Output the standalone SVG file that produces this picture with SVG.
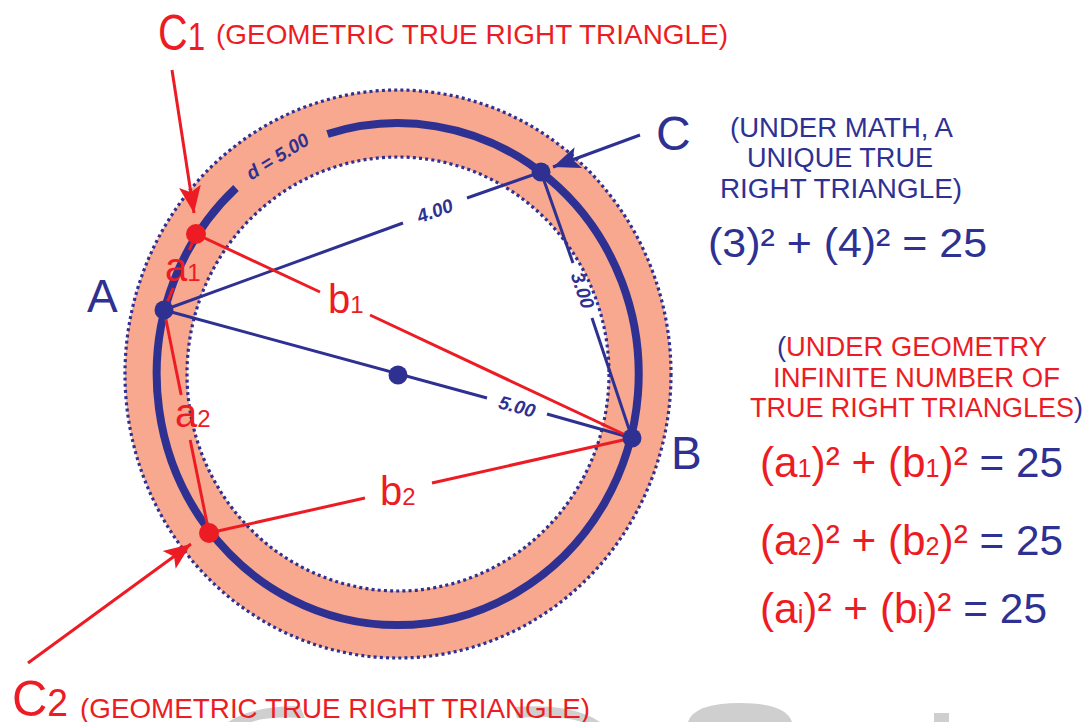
<svg xmlns="http://www.w3.org/2000/svg" width="1086" height="722" viewBox="0 0 1086 722">
<style>
text{font-family:"Liberation Sans",Arial,sans-serif}
.nv{fill:#2E3192}
.rd{fill:#ED1C24}
.dim{font-weight:bold;font-style:italic;font-size:19px;fill:#2E3192}
.nl{stroke:#2E3192;stroke-width:3;fill:none}
.rl{stroke:#ED1C24;stroke-width:3;fill:none}
.dot{fill:none;stroke:#2E3192;stroke-width:3.2;stroke-dasharray:3 3.2}
.wm{fill:#cfcfcf}
</style>
<defs>
<marker id="arR" markerUnits="userSpaceOnUse" markerWidth="32" markerHeight="26" viewBox="-29 -13 32 26" refX="0" refY="0" orient="auto"><path d="M0,0 L-27,-11 L-21,0 L-27,11 Z" fill="#ED1C24"/></marker>
<marker id="arN" markerUnits="userSpaceOnUse" markerWidth="32" markerHeight="26" viewBox="-29 -13 32 26" refX="0" refY="0" orient="auto"><path d="M0,0 L-27,-11 L-21,0 L-27,11 Z" fill="#2E3192"/></marker>
</defs>
<g id="watermark">
<path class="wm" d="M228,722 Q252,706 300,706 L305,718 Q266,716 252,722 Z"/>
<path class="wm" d="M514,707 Q572,703 600,722 L582,722 Q560,715 517,718 Z"/>
<path class="wm" d="M688,722 Q694,703 740,703 Q786,703 792,722 Z"/>
<rect class="wm" x="934" y="713" width="15" height="9"/>
</g>
<g id="band">
<path d="M125,374 A273,284 0 1 0 671,374 A273,284 0 1 0 125,374 Z M187,374 A211,217 0 1 1 609,374 A211,217 0 1 1 187,374 Z" fill="#F7A88E" fill-rule="evenodd"/>
<ellipse class="dot" cx="398" cy="374" rx="273" ry="284"/>
<ellipse class="dot" cx="398" cy="374" rx="211" ry="217"/>
</g>
<g id="circle">
<path d="M327.5,134 A241,251 0 1 1 236,188" fill="none" stroke="#2E3192" stroke-width="8"/>
<text class="dim" x="281" y="162" text-anchor="middle" transform="rotate(-32 281 162)">d = 5.00</text>
</g>
<g id="connectors">
<line class="nl" x1="164" y1="310" x2="403" y2="223"/>
<line class="nl" x1="467" y1="198" x2="541" y2="172"/>
<line class="nl" x1="541" y1="172" x2="573" y2="263"/>
<line class="nl" x1="592" y1="318" x2="632" y2="438"/>
<line class="nl" x1="164" y1="310" x2="487" y2="398"/>
<line class="nl" x1="547" y1="414" x2="632" y2="438"/>
<line class="rl" x1="196" y1="234" x2="320" y2="292"/>
<line class="rl" x1="370" y1="315" x2="632" y2="438"/>
<line class="rl" x1="196" y1="234" x2="189.3" y2="250"/>
<line class="rl" x1="173.3" y1="288" x2="164" y2="310"/>
<line class="rl" x1="164" y1="310" x2="181.2" y2="395"/>
<line class="rl" x1="190.2" y1="440" x2="209" y2="533"/>
<line class="rl" x1="209" y1="533" x2="365" y2="498"/>
<line class="rl" x1="432" y1="483" x2="632" y2="438"/>
<line class="rl" x1="172" y1="70" x2="194" y2="213" marker-end="url(#arR)"/>
<line class="rl" x1="28" y1="663" x2="191" y2="544" marker-end="url(#arR)"/>
<line class="nl" x1="640" y1="135" x2="553" y2="167" marker-end="url(#arN)"/>
<text class="dim" x="437" y="217" text-anchor="middle" transform="rotate(-20.1 437 217)">4.00</text>
<text class="dim" x="576.4" y="292.6" text-anchor="middle" transform="rotate(71.1 576.4 292.6)">3.00</text>
<text class="dim" x="515.3" y="412.8" text-anchor="middle" transform="rotate(15.3 515.3 412.8)">5.00</text>
</g>
<g id="node-A"><circle cx="164" cy="310" r="9.5" fill="#2E3192"/><text class="nv" x="87" y="312" font-size="46">A</text></g>
<g id="node-B"><circle cx="632" cy="438" r="9.5" fill="#2E3192"/><text class="nv" x="671" y="469" font-size="46">B</text></g>
<g id="node-C"><circle cx="541" cy="172" r="9.5" fill="#2E3192"/><text class="nv" x="656" y="150" font-size="48">C</text></g>
<g id="node-O"><circle cx="398" cy="375" r="9.5" fill="#2E3192"/></g>
<g id="node-C1"><circle cx="196" cy="234" r="10" fill="#ED1C24"/>
<text class="rd" x="158" y="50" font-size="50" textLength="47" lengthAdjust="spacingAndGlyphs">C<tspan font-size="38">1</tspan></text>
<text class="rd" x="216" y="44" font-size="28" textLength="512" lengthAdjust="spacingAndGlyphs">(GEOMETRIC TRUE RIGHT TRIANGLE)</text></g>
<g id="node-C2"><circle cx="209" cy="533" r="10" fill="#ED1C24"/>
<text class="rd" x="12" y="716" font-size="50" textLength="56" lengthAdjust="spacingAndGlyphs">C<tspan font-size="38">2</tspan></text>
<text class="rd" x="80" y="718" font-size="28" textLength="510" lengthAdjust="spacingAndGlyphs">(GEOMETRIC TRUE RIGHT TRIANGLE)</text></g>
<g id="labels">
<text class="rd" x="165" y="281" font-size="40">a<tspan font-size="24">1</tspan></text>
<text class="rd" x="328" y="313" font-size="40">b<tspan font-size="24">1</tspan></text>
<text class="rd" x="175" y="427" font-size="40">a<tspan font-size="24">2</tspan></text>
<text class="rd" x="380" y="505" font-size="40">b<tspan font-size="24">2</tspan></text>
</g>
<g id="math-note">
<text class="nv" x="730" y="137" font-size="27" textLength="223" lengthAdjust="spacingAndGlyphs">(UNDER MATH, A</text>
<text class="nv" x="747" y="167" font-size="27" textLength="186" lengthAdjust="spacingAndGlyphs">UNIQUE TRUE</text>
<text class="nv" x="720" y="198" font-size="27" textLength="242" lengthAdjust="spacingAndGlyphs">RIGHT TRIANGLE)</text>
<text class="nv" x="708" y="257" font-size="40" textLength="279" lengthAdjust="spacingAndGlyphs">(3)² + (4)² = 25</text>
</g>
<g id="geometry-note">
<text x="777" y="356" font-size="27" textLength="270" lengthAdjust="spacingAndGlyphs"><tspan class="nv">(</tspan><tspan class="rd">UNDER GEOMETRY</tspan></text>
<text class="rd" x="773" y="387" font-size="27" textLength="287" lengthAdjust="spacingAndGlyphs">INFINITE NUMBER OF</text>
<text x="750" y="417" font-size="27" textLength="333" lengthAdjust="spacingAndGlyphs"><tspan class="rd">TRUE RIGHT TRIANGLES</tspan><tspan class="nv">)</tspan></text>
<text x="760" y="477" font-size="42" textLength="303" lengthAdjust="spacingAndGlyphs"><tspan class="rd">(a</tspan><tspan class="rd" font-size="25">1</tspan><tspan class="rd">)² + (b</tspan><tspan class="rd" font-size="25">1</tspan><tspan class="rd">)²</tspan><tspan class="nv"> = 25</tspan></text>
<text x="760" y="555" font-size="42" textLength="303" lengthAdjust="spacingAndGlyphs"><tspan class="rd">(a</tspan><tspan class="rd" font-size="25">2</tspan><tspan class="rd">)² + (b</tspan><tspan class="rd" font-size="25">2</tspan><tspan class="rd">)²</tspan><tspan class="nv"> = 25</tspan></text>
<text x="760" y="623" font-size="42" textLength="287" lengthAdjust="spacingAndGlyphs"><tspan class="rd">(a</tspan><tspan class="rd" font-size="25">i</tspan><tspan class="rd">)² + (b</tspan><tspan class="rd" font-size="25">i</tspan><tspan class="rd">)²</tspan><tspan class="nv"> = 25</tspan></text>
</g>
</svg>
